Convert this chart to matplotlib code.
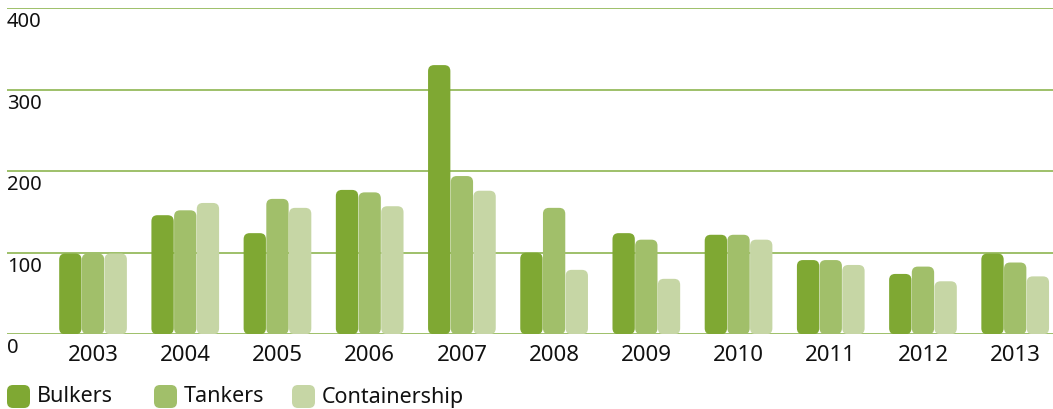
import matplotlib
matplotlib.use("Agg")
import matplotlib.pyplot as plt
from matplotlib.patches import FancyBboxPatch
import numpy as np

years = ["2003", "2004", "2005", "2006", "2007", "2008", "2009", "2010", "2011", "2012", "2013"]
bulkers = [99, 146, 124, 177, 330, 100, 124, 122, 91, 74, 99]
tankers = [99, 152, 166, 174, 194, 155, 116, 122, 91, 83, 88]
containership = [99, 161, 155, 157, 176, 79, 68, 116, 85, 65, 71]
series_names = ["Bulkers", "Tankers", "Containership"]
y_ticks = [0, 100, 200, 300, 400]

colors = ["#7fa833", "#a1bf6a", "#c6d6a5"]
grid_color = "#8db550"

plt.rcParams["font.family"] = ["Noto Sans", "DejaVu Sans"]

W, H = 1053, 409
fig = plt.figure(figsize=(W / 100, H / 100), dpi=100)
# axes box in pixels: left 7, right 1053, top 8, bottom 334
ax = fig.add_axes([7 / W, (H - 334.3) / H, (W - 7) / W, (334.3 - 8) / H])

x = np.arange(len(years))
ax.set_xlim(-0.933, 10.41)
ax.set_ylim(0, 400)
ax.set_axisbelow(True)

bw = 0.242
step = 0.246
px_x = ax.bbox.width / (ax.get_xlim()[1] - ax.get_xlim()[0])
px_y = ax.bbox.height / (ax.get_ylim()[1] - ax.get_ylim()[0])
aspect = px_x / px_y
for k, vals in enumerate([bulkers, tankers, containership]):
    bars = ax.bar(x + (k - 1) * step, vals, width=bw, color=colors[k], zorder=3)
    # swap plain rectangles for rounded ones
    for r in bars:
        bx, by, w, h = r.get_x(), r.get_y(), r.get_width(), r.get_height()
        r.set_visible(False)
        ax.add_patch(FancyBboxPatch((bx, by), w, h,
                                    boxstyle="round,pad=0,rounding_size=%f" % (6 / px_x),
                                    mutation_aspect=aspect, fc=colors[k], ec="none", zorder=3))

ax.set_yticks(y_ticks)
ax.set_yticklabels([])
ax.tick_params(axis="y", length=0)
ax.yaxis.grid(True, color=grid_color, lw=1.2, zorder=0)
for s in ax.spines.values():
    s.set_visible(False)
for v in y_ticks:
    ax.annotate(str(v), xy=(0, v), xycoords=("axes fraction", "data"),
                xytext=(0, -3), textcoords="offset points",
                ha="left", va="top", fontsize=14.5, color="#111111")

ax.set_xticks(x)
ax.set_xticklabels(years, fontsize=16, color="#111111")
ax.tick_params(axis="x", length=0, pad=8)

# legend drawn in pixel space
lg = fig.add_axes([0, 0, 1, 1], zorder=5)
lg.set_xlim(0, W)
lg.set_ylim(H, 0)
lg.axis("off")
leg_x = [7, 154, 292]
for name, c, lx in zip(series_names, colors, leg_x):
    lg.add_patch(FancyBboxPatch((lx, 385), 23, 23, boxstyle="round,pad=0,rounding_size=6",
                                fc=c, ec="none"))
    lg.text(lx + 30, 397, name, fontsize=15.5, va="center", ha="left", color="#111111")

fig.savefig("out.png", dpi=100)
